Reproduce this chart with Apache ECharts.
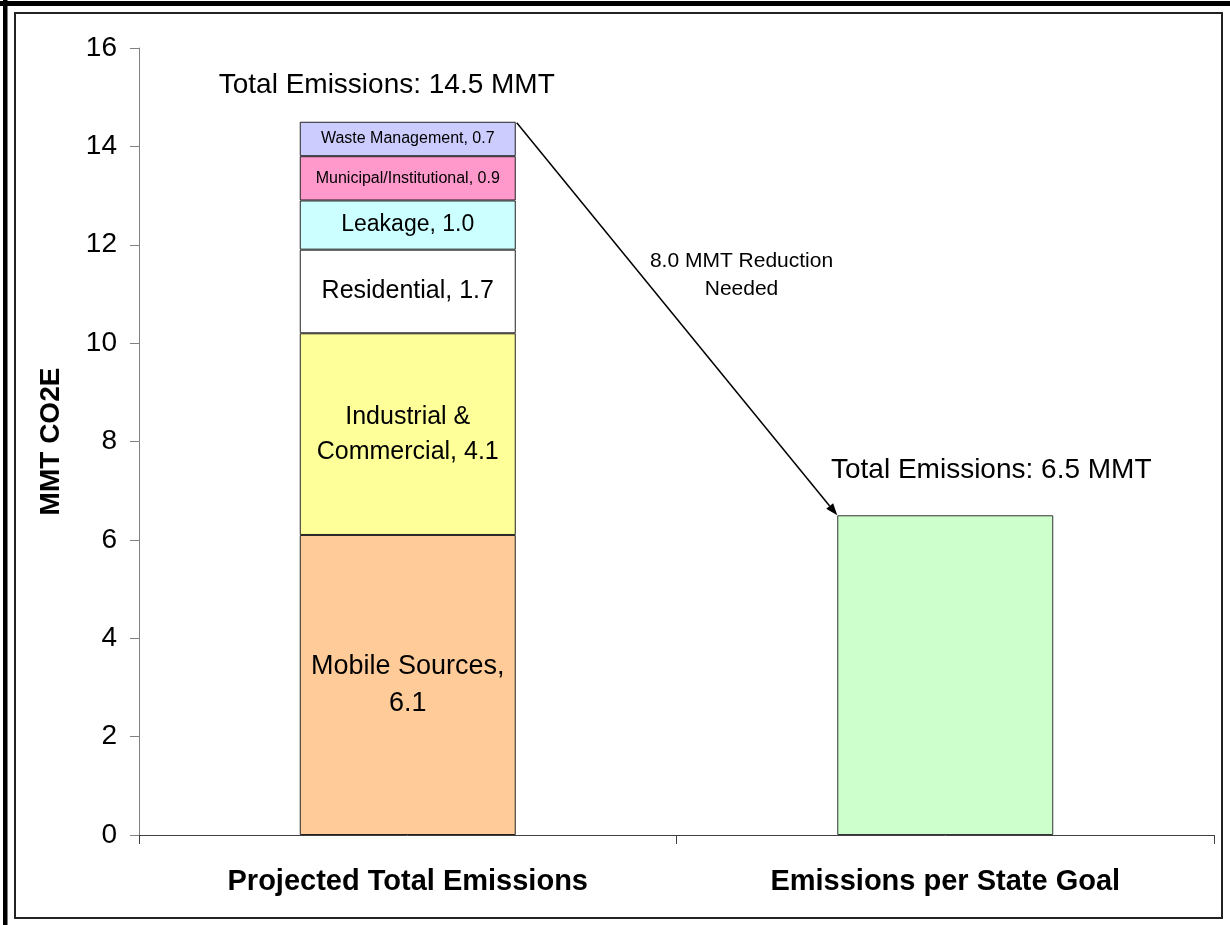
<!DOCTYPE html>
<html>
<head>
<meta charset="utf-8">
<title>Emissions</title>
<script src="https://cdn.jsdelivr.net/npm/echarts@6/dist/echarts.min.js"></script>
<style>
  html, body { margin: 0; padding: 0; background: #fff; }
  #main { width: 1230px; height: 925px; }
</style>
</head>
<body>
<div id="main"></div>
<script>
// 数据
var categories = ['Projected Total Emissions', 'Emissions per State Goal'];
var segNames = ['Mobile Sources', 'Industrial & Commercial', 'Residential', 'Leakage', 'Municipal/Institutional', 'Waste Management'];
var segValues = [6.1, 4.1, 1.7, 1.0, 0.9, 0.7];
var segLabels = ['Mobile Sources,\n{v}', 'Industrial &\nCommercial, {v}', 'Residential, {v}', 'Leakage, {v}', 'Municipal/Institutional, {v}', 'Waste Management, {v}'];
var segColors = ['#FFCC99', '#FFFF99', '#FFFFFF', '#CCFFFF', '#FF99CC', '#CCCCFF'];
var segFontSizes = [27, 25, 25, 23, 16, 16];
var goalValue = 6.5;
var reduction = 8.0;
var yTicks = [0, 2, 4, 6, 8, 10, 12, 14, 16];

var FONT = '"Liberation Sans", Arial, sans-serif';
var BAR_W = 216;

var total = 0;
for (var i = 0; i < segValues.length; i++) total += segValues[i];
total = Math.round(total * 10) / 10;

var myChart = echarts.init(document.getElementById('main'));

var series = [];
segValues.forEach(function (v, i) {
    series.push({
        name: segNames[i],
        type: 'bar',
        stack: 'total',
        barWidth: BAR_W,
        data: [v, '-'],
        itemStyle: { color: segColors[i], borderColor: '#222', borderWidth: 1 },
        label: {
            show: true,
            position: 'inside',
            color: '#000',
            fontFamily: FONT,
            fontSize: segFontSizes[i],
            lineHeight: Math.round(segFontSizes[i] * 1.38),
            formatter: segLabels[i].replace('{v}', v.toFixed(1))
        },
        emphasis: { disabled: true },
        animation: false
    });
});
series.push({
    name: 'Goal',
    type: 'bar',
    stack: 'total',
    barWidth: BAR_W,
    data: ['-', goalValue],
    itemStyle: { color: '#CCFFCC', borderColor: '#333', borderWidth: 1 },
    emphasis: { disabled: true },
    animation: false
});
// 总量标签
series.push({
    name: 'totals',
    type: 'scatter',
    symbolSize: 0.01,
    itemStyle: { color: '#000' },
    data: [
        { value: [categories[0], total], label: { distance: 22, offset: [-21, 0] } },
        { value: [categories[1], goalValue], label: { distance: 31, offset: [46, 0] } }
    ],
    label: {
        show: true,
        position: 'top',
        color: '#000',
        opacity: 1,
        fontFamily: FONT,
        fontSize: 28,
        formatter: function (p) { return 'Total Emissions: ' + p.value[1].toFixed(1) + ' MMT'; }
    },
    emphasis: { disabled: true },
    silent: true,
    animation: false
});

var option = {
    backgroundColor: '#fff',
    grid: { left: 139, right: 16, top: 48, bottom: 90 },
    xAxis: {
        type: 'category',
        data: categories,
        axisLine: { lineStyle: { color: '#404040', width: 1 } },
        axisTick: { show: true, length: 9, lineStyle: { color: '#404040' } },
        axisLabel: { color: '#000', fontFamily: FONT, fontSize: 29, fontWeight: 'bold', margin: 32 }
    },
    yAxis: {
        type: 'value',
        min: yTicks[0],
        max: yTicks[yTicks.length - 1],
        interval: yTicks[1] - yTicks[0],
        name: 'MMT CO2E',
        nameLocation: 'middle',
        nameGap: 74,
        nameTextStyle: { color: '#000', fontFamily: FONT, fontSize: 28, fontWeight: 'bold' },
        axisLine: { show: true, lineStyle: { color: '#808080', width: 1 } },
        axisTick: { show: true, length: 9, lineStyle: { color: '#808080' } },
        axisLabel: { color: '#000', fontFamily: FONT, fontSize: 28, margin: 22 },
        splitLine: { show: false }
    },
    series: series,
    animation: false
};

myChart.setOption(option);

// 箭头和边框
var p1 = myChart.convertToPixel({ seriesIndex: 0 }, [categories[0], total]);
var p2 = myChart.convertToPixel({ seriesIndex: 0 }, [categories[1], goalValue]);
var x1 = p1[0] + BAR_W / 2, y1 = p1[1];
var x2 = p2[0] - BAR_W / 2, y2 = p2[1];
var ang = Math.atan2(y2 - y1, x2 - x1);
var ah = 12, aw = 4.5;
var bx = x2 - ah * Math.cos(ang), by = y2 - ah * Math.sin(ang);

myChart.setOption({
    graphic: [
        { type: 'rect', shape: { x: 0, y: 1, width: 1230, height: 5 }, style: { fill: '#000' }, silent: true },
        { type: 'rect', shape: { x: 3, y: 0, width: 4.5, height: 925 }, style: { fill: '#000' }, silent: true },
        { type: 'rect', shape: { x: 15, y: 13, width: 1207, height: 905 }, style: { fill: 'none', stroke: '#222', lineWidth: 2 }, silent: true },
        {
            type: 'line',
            shape: { x1: x1 + 1, y1: y1 + 1, x2: bx, y2: by },
            style: { stroke: '#000', lineWidth: 1.5 },
            silent: true
        },
        {
            type: 'polygon',
            shape: { points: [
                [x2, y2],
                [bx + aw * Math.sin(ang), by - aw * Math.cos(ang)],
                [bx - aw * Math.sin(ang), by + aw * Math.cos(ang)]
            ] },
            style: { fill: '#000' },
            silent: true
        },
        {
            type: 'text',
            x: (x1 + x2) / 2 + 65,
            y: (y1 + y2) / 2 - 43,
            style: {
                text: reduction.toFixed(1) + ' MMT Reduction\nNeeded',
                fill: '#000',
                font: '21px ' + FONT,
                lineHeight: 28,
                align: 'center',
                verticalAlign: 'middle'
            },
            silent: true
        }
    ]
});
</script>
</body>
</html>
